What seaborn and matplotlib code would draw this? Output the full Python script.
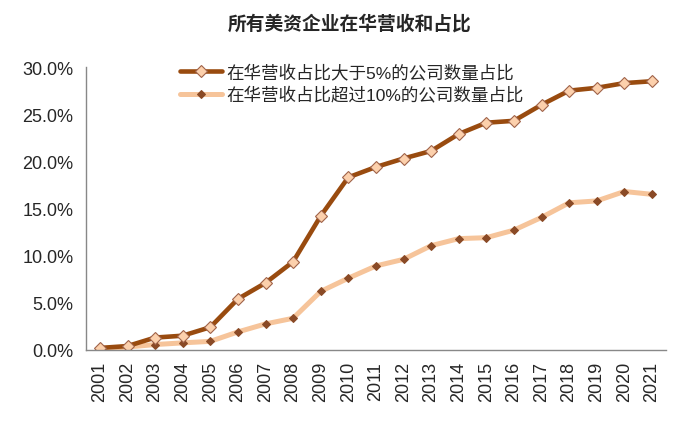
import numpy as np
import pandas as pd
import matplotlib
matplotlib.use("Agg")
import matplotlib.pyplot as plt
import seaborn as sns
from matplotlib.ticker import PercentFormatter, FixedLocator

years = list(range(2001, 2022))
share_over5 = [0.2, 0.4, 1.3, 1.5, 2.4, 5.4, 7.1, 9.35, 14.2, 18.3, 19.4,
               20.3, 21.1, 22.9, 24.1, 24.3, 26.0, 27.5, 27.8, 28.3, 28.5]
share_over10 = [0.1, 0.3, 0.56, 0.74, 0.9, 1.9, 2.75, 3.35, 6.2, 7.6, 8.9,
                9.6, 11.05, 11.8, 11.9, 12.7, 14.05, 15.6, 15.8, 16.8, 16.5]
label_over5 = "在华营收占比大于5%的公司数量占比"
label_over10 = "在华营收占比超过10%的公司数量占比"

df = pd.DataFrame({"year": years, "over5": share_over5, "over10": share_over10})

sns.set_style("white")
plt.rcParams['font.family'] = ['Liberation Sans', 'Noto Sans CJK SC', 'DejaVu Sans']

fig = plt.figure(figsize=(7, 4.31), dpi=100)
ax = fig.add_axes([0.123, 0.186, 0.828, 0.656])

sns.lineplot(data=df, x="year", y="over5", ax=ax, color="#994B0F", linewidth=3.3,
             marker="D", markersize=6.5, markerfacecolor="#FCD0AC",
             markeredgecolor="#A0634A", markeredgewidth=0.8, label=label_over5)
sns.lineplot(data=df, x="year", y="over10", ax=ax, color="#F6C49A", linewidth=3.6,
             marker="D", markersize=4, markerfacecolor="#8A4A26",
             markeredgecolor="#8A4A26", label=label_over10, zorder=1)

ax.set_xlim(years[0] - 0.5, years[-1] + 0.5)
ax.set_ylim(0, 30)
ax.set_yticks(np.arange(0, 31, 5))
ax.yaxis.set_major_formatter(PercentFormatter(decimals=1))
ax.set_xticks(years)
ax.set_xticklabels([str(y) for y in years], rotation=90)
ax.xaxis.set_minor_locator(FixedLocator(np.arange(years[0] - 0.5, years[-1] + 1, 1)))
ax.tick_params(axis="x", which="major", length=0, pad=8, labelsize=13)
ax.tick_params(axis="x", which="minor", length=5, color="#888888", width=1)
ax.tick_params(axis="y", length=5, color="#888888", width=1, labelsize=13, pad=4)
ax.set_xlabel("")
ax.set_ylabel("")
for side in ["top", "right"]:
    ax.spines[side].set_visible(False)
for side in ["left", "bottom"]:
    ax.spines[side].set_color("#888888")
    ax.spines[side].set_linewidth(1)

leg = ax.legend(loc="upper left", bbox_to_anchor=(0.135, 1.068), frameon=False,
                fontsize=12.6, handlelength=2.4, handletextpad=0.25,
                labelspacing=0.3)

fig.text(0.5, 0.945, "所有美资企业在华营收和占比", ha="center", va="center",
         fontsize=13.5, fontweight="bold")

fig.savefig("out.png", dpi=100)
